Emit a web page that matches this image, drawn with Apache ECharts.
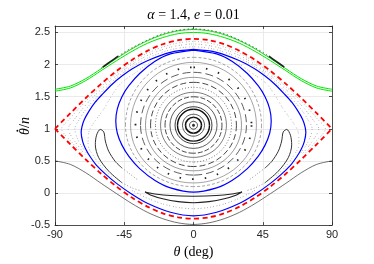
<!DOCTYPE html>
<html><head><meta charset="utf-8">
<script src="https://cdn.jsdelivr.net/npm/echarts@6/dist/echarts.min.js"></script>
<style>html,body{margin:0;padding:0;background:#fff}#c{width:374px;height:264px}</style>
</head><body><div id="c"></div>
<script>
// ---- axes ----
const xTicks = [-90, -45, 0, 45, 90];
const yTicks = [-0.5, 0, 0.5, 1, 1.5, 2, 2.5];
const yMax = 2.6;

// ---- separatrix (red dashed) ----
const sepTop = [[-90,1.0],[-80,1.243],[-70,1.479],[-60,1.70],[-50,1.90],[-40,2.072],[-30,2.212],[-20,2.316],[-10,2.379],[0,2.40],[10,2.379],[20,2.316],[30,2.212],[40,2.072],[50,1.90],[60,1.70],[70,1.479],[80,1.243],[90,1.0]];
const sepBottom = [[-90,1.0],[-80,0.757],[-70,0.521],[-60,0.30],[-50,0.10],[-40,-0.072],[-30,-0.212],[-20,-0.316],[-10,-0.379],[0,-0.40],[10,-0.379],[20,-0.316],[30,-0.212],[40,-0.072],[50,0.10],[60,0.30],[70,0.521],[80,0.757],[90,1.0]];

// ---- circulating orbits ----
const greenUpper = [[-90,1.615],[-80,1.665],[-70,1.78],[-60,1.935],[-50,2.095],[-40,2.245],[-30,2.37],[-20,2.465],[-10,2.525],[0,2.545],[10,2.525],[20,2.465],[30,2.37],[40,2.245],[50,2.095],[60,1.935],[70,1.78],[80,1.665],[90,1.615]];
const greenLower = [[-90,1.585],[-80,1.635],[-70,1.75],[-60,1.905],[-50,2.06],[-40,2.205],[-30,2.33],[-20,2.42],[-10,2.48],[0,2.50],[10,2.48],[20,2.42],[30,2.33],[40,2.205],[50,2.06],[60,1.905],[70,1.75],[80,1.635],[90,1.585]];
const nearGreen = [[-60,1.945],[-55,2.03],[-50,2.11],[-45,2.19],[-40,2.26],[-30,2.38],[-20,2.48],[-10,2.535],[0,2.555],[10,2.535],[20,2.48],[30,2.38],[40,2.26],[45,2.19],[50,2.11],[55,2.03],[60,1.945]];
const nearGreenLeft = [[-59,1.96],[-54,2.045],[-49,2.13]];
const nearGreenRight = [[49,2.13],[54,2.045],[59,1.96]];
const blackBottom = [[-90,0.5],[-80,0.445],[-70,0.315],[-60,0.15],[-50,-0.01],[-40,-0.165],[-30,-0.30],[-20,-0.40],[-10,-0.465],[0,-0.49],[10,-0.465],[20,-0.40],[30,-0.30],[40,-0.165],[50,-0.01],[60,0.15],[70,0.315],[80,0.445],[90,0.5]];

// ---- blue orbit (two loops) ----
const blueOuter = [[0,2.235],[-15,2.19],[-30,2.06],[-40,1.93],[-46.5,1.82],[-53,1.69],[-59.5,1.53],[-64,1.41],[-68,1.27],[-71,1.14],[-72.5,1.03],[-73,0.94],[-72,0.80],[-70,0.68],[-67,0.56],[-63,0.43],[-57,0.29],[-50,0.15],[-40,-0.02],[-30,-0.16],[-15,-0.30],[0,-0.355],[15,-0.30],[30,-0.16],[40,-0.02],[50,0.15],[57,0.29],[63,0.43],[67,0.56],[70,0.68],[72,0.80],[73,0.94],[72.5,1.03],[71,1.14],[68,1.27],[64,1.41],[59.5,1.53],[53,1.69],[46.5,1.82],[40,1.93],[30,2.06],[15,2.19],[0,2.235]];
const blueInner = [[0,2.225],[-15,2.165],[-25,2.05],[-35,1.86],[-42,1.67],[-46.5,1.50],[-49.5,1.31],[-50.5,1.12],[-49.5,0.93],[-46.5,0.745],[-42,0.57],[-35,0.38],[-25,0.195],[-15,0.08],[0,0.013],[15,0.08],[25,0.195],[35,0.38],[42,0.57],[46.5,0.745],[49.5,0.93],[50.5,1.12],[49.5,1.31],[46.5,1.50],[42,1.67],[35,1.86],[25,2.05],[15,2.165],[0,2.225]];

// ---- 3-island chain ----
const bananaRight = [[46.5,0.16],[55.1,0.34],[61.6,0.55],[63.8,0.75],[63,0.9],[60.6,0.99],[58.3,0.95],[57.3,0.81],[55.1,0.65],[50.8,0.49],[46.5,0.39]];
const bananaLeft = [[-46.5,0.16],[-55.1,0.34],[-61.6,0.55],[-63.8,0.75],[-63,0.9],[-60.6,0.99],[-58.3,0.95],[-57.3,0.81],[-55.1,0.65],[-50.8,0.49],[-46.5,0.39]];
const tailRightA = [[46.5,0.16],[40,0.08],[35,0.04]];
const tailRightB = [[46.5,0.39],[41,0.29],[36,0.2]];
const tailLeftA = [[-46.5,0.16],[-40,0.08],[-35,0.04]];
const tailLeftB = [[-46.5,0.39],[-41,0.29],[-36,0.2]];
const crescent = [[-31.5,0.015],[-25,-0.015],[-15,-0.04],[0,-0.05],[15,-0.04],[25,-0.015],[31.5,0.015],[28,-0.03],[20,-0.09],[10,-0.135],[0,-0.152],[-10,-0.135],[-20,-0.09],[-28,-0.03],[-31.5,0.015]];
const belowCrescent = [[-40,0.04],[-30,-0.08],[-20,-0.17],[-10,-0.225],[0,-0.245],[10,-0.225],[20,-0.17],[30,-0.08],[40,0.04]];

// ---- chaotic band (gray speckle) ----
const chaos0 = [[-69,0.6],[-74.5,0.8],[-77.1,1.0],[-74.1,1.15],[-70,1.3],[-62.7,1.5],[-60,1.565],[-50,1.795],[-40,1.965],[-30,2.10],[-15,2.23],[0,2.276],[15,2.23],[30,2.10],[40,1.965],[50,1.795],[60,1.565],[62.7,1.5],[70,1.3],[74.1,1.15],[77.1,1.0],[74.5,0.8],[69,0.6]];
const chaos1 = [[-70.5,0.6],[-77,0.8],[-81.4,1.0],[-77.3,1.15],[-72.5,1.3],[-64.9,1.5],[-59.7,1.62],[-50,1.83],[-40,2.0],[-30,2.14],[-15,2.27],[0,2.32],[15,2.27],[30,2.14],[40,2.0],[50,1.83],[59.7,1.62],[64.9,1.5],[72.5,1.3],[77.3,1.15],[81.4,1.0],[77,0.8],[70.5,0.6]];
const chaos2 = [[-71.9,0.6],[-79.4,0.8],[-85.7,1.0],[-80.6,1.15],[-75.1,1.3],[-67,1.5],[-60,1.655],[-50,1.865],[-40,2.035],[-30,2.175],[-15,2.31],[0,2.36],[15,2.31],[30,2.175],[40,2.035],[50,1.865],[60,1.655],[67,1.5],[75.1,1.3],[80.6,1.15],[85.7,1.0],[79.4,0.8],[71.9,0.6]];
const annulusLeft = [[-28,2.04],[-37,1.885],[-47.5,1.7],[-53.5,1.5],[-58.5,1.3],[-64,1.12],[-68,0.95],[-68.5,0.75],[-64.2,0.55],[-59.4,0.4],[-53,0.25]];
const annulusRight = [[28,2.04],[37,1.885],[47.5,1.7],[53.5,1.5],[58.5,1.3],[64,1.12],[68,0.95],[68.5,0.75],[64.2,0.55],[59.4,0.4],[53,0.25]];

// ---- invariant circles around the centre ----
const centerPoint = [[0, 1.055]];
const ringCenterY = 1.055;
const ringHalfWidth = [2.6,5.2,7.15,10.4,12.0,15.3,18.5,21.4,24.7,27.9,31.2,34.4,37.7,40.9,44.2];
const ringTop = [1.117,1.179,1.226,1.304,1.343,1.420,1.498,1.568,1.646,1.723,1.801,1.879,1.957,2.034,2.112];
const ringBottom = [0.993,0.931,0.884,0.808,0.769,0.694,0.619,0.554,0.482,0.412,0.345,0.279,0.216,0.156,0.099];

// styles (kept separate from data)
const ringStyles = [
  {c:'#222',w:0.8},{c:'#111',w:1.6},{c:'#333',w:0.8},{c:'#111',w:1.4},{c:'#222',w:0.9},
  {c:'#333',w:0.8},{c:'#333',w:0.9,d:[5,2]},{c:'#444',w:0.7},{c:'#666',w:0.9,d:[1,2]},
  {c:'#333',w:0.9,d:[6,3]},{c:'#555',w:0.6},{c:'#333',w:0.8,d:[8,4]},{c:'#222',w:1.8,d:[1.5,11]},
  {c:'#666',w:0.6},{c:'#666',w:0.6,d:[3,2]}
];

const chart = echarts.init(document.getElementById('c'), null, {renderer:'canvas'});
const AX = '#262626';
const serif = 'Liberation Serif';
const rich = {
  i: {fontFamily: serif, fontStyle: 'italic', fontSize: 14, color: '#000'},
  r: {fontFamily: serif, fontSize: 14, color: '#000'}
};

function ln(data, color, width, type, z, smooth) {
  return {type:'line', data, symbol:'none', showSymbol:false, smooth: smooth===undefined?0.3:smooth,
    lineStyle:{color, width, type}, z, silent:true, animation:false, clip:true};
}

const ringSeries = {
  type:'custom', z: 2, silent:true, animation:false, clip:true,
  data: ringHalfWidth.map((h,i)=>[h, ringTop[i], ringBottom[i], ringCenterY]),
  renderItem: (params, api) => {
    const hw = api.value(0), top = api.value(1), bot = api.value(2), cy = api.value(3);
    const c = api.coord([0, cy]);
    const l = api.coord([-hw, cy]);
    const r = api.coord([hw, cy]);
    const t = api.coord([0, top]);
    const b = api.coord([0, bot]);
    const k = 0.5523;
    const rx = c[0]-l[0], ryT = c[1]-t[1], ryB = b[1]-c[1];
    const st = ringStyles[params.dataIndex];
    const style = {stroke: st.c, lineWidth: st.w, fill: 'none', lineDash: st.d || null};
    const seg = (x1,y1,cx1,cy1,cx2,cy2,x2,y2) => ({type:'bezierCurve', shape:{x1,y1,cpx1:cx1,cpy1:cy1,cpx2:cx2,cpy2:cy2,x2,y2}, style});
    return {type:'group', children:[
      seg(l[0],c[1], l[0],c[1]-k*ryT, c[0]-k*rx,t[1], c[0],t[1]),
      seg(c[0],t[1], c[0]+k*rx,t[1], r[0],c[1]-k*ryT, r[0],c[1]),
      seg(r[0],c[1], r[0],c[1]+k*ryB, c[0]+k*rx,b[1], c[0],b[1]),
      seg(c[0],b[1], c[0]-k*rx,b[1], l[0],c[1]+k*ryB, l[0],c[1])
    ]};
  }
};

const speckA = [0.8,1.6,0.8,3.2,0.8,2.2];
const speckB = [0.8,2.6,0.8,1.4,0.8,3.6];
const speckC = [0.8,1.9,0.8,2.8];
const option = {
  animation:false,
  backgroundColor:'#fff',
  grid:{left:55, right:42, top:26, bottom:38, show:false},
  graphic:[
    {type:'text', x:193.5, y:15, z:10, style:{
      text:'{i|α}{r| = 1.4, }{i|e}{r| = 0.01}', rich, textAlign:'center', textVerticalAlign:'middle'}},
    {type:'group', x:25, y:126, rotation:Math.PI/2, z:10, children:[
      {type:'text', x:0, y:0, style:{text:'{i|θ}{r|/}{i|n}', rich, textAlign:'center', textVerticalAlign:'middle'}},
      {type:'circle', shape:{cx:-4.8, cy:-7.6, r:0.95}, style:{fill:'#000'}}
    ]}
  ],
  xAxis:[{type:'value', min:xTicks[0], max:xTicks[xTicks.length-1], interval:45, position:'bottom',
      axisLine:{show:true, onZero:false, lineStyle:{color:AX, width:0.8}},
      axisTick:{show:true, inside:true, length:3, lineStyle:{color:AX, width:0.8}},
      axisLabel:{color:AX, fontFamily:'Liberation Sans', fontSize:11, margin:4},
      splitLine:{show:true, lineStyle:{color:'#e4e4e4', width:0.8}},
      name:'{i|θ}{r| (deg)}', nameLocation:'middle', nameGap:15, nameTextStyle:{rich}},
    {type:'value', min:xTicks[0], max:xTicks[xTicks.length-1], interval:45, position:'top',
      axisLine:{show:true, onZero:false, lineStyle:{color:AX, width:0.8}},
      axisTick:{show:true, inside:true, length:3, lineStyle:{color:AX, width:0.8}},
      axisLabel:{show:false}, splitLine:{show:false}}],
  yAxis:[{type:'value', min:yTicks[0], max:yMax, interval:0.5, position:'left',
      axisLine:{show:true, onZero:false, lineStyle:{color:AX, width:0.8}},
      axisTick:{show:true, inside:true, length:3, lineStyle:{color:AX, width:0.8}},
      axisLabel:{color:AX, fontFamily:'Liberation Sans', fontSize:11, margin:5, showMaxLabel:false},
      splitLine:{show:true, lineStyle:{color:'#e4e4e4', width:0.8}}},
    {type:'value', min:yTicks[0], max:yMax, interval:0.5, position:'right',
      axisLine:{show:true, onZero:false, lineStyle:{color:AX, width:0.8}},
      axisTick:{show:true, inside:true, length:3, lineStyle:{color:AX, width:0.8}},
      axisLabel:{show:false}, splitLine:{show:false}}],
  series:[
    ln(chaos0, '#a0a0a0', 1, speckA, 1),
    ln(chaos1, '#9a9a9a', 1, speckB, 1),
    ln(chaos2, '#a8a8a8', 1, speckC, 1),
    ln(annulusLeft, '#a8a8a8', 1, speckA, 1),
    ln(annulusRight, '#a8a8a8', 1, speckB, 1),
    ln(belowCrescent, '#8a8a8a', 0.9, speckC, 1),
    ringSeries,
    {type:'scatter', data:centerPoint, symbol:'circle', symbolSize:3, itemStyle:{color:'#000'}, z:3, silent:true, animation:false},
    ln(bananaRight, '#333', 1, 'solid', 3),
    ln(bananaLeft, '#333', 1, 'solid', 3),
    ln(tailRightA, '#888', 0.9, [1,2], 3),
    ln(tailRightB, '#888', 0.9, [1,2], 3),
    ln(tailLeftA, '#888', 0.9, [1,2], 3),
    ln(tailLeftB, '#888', 0.9, [1,2], 3),
    ln(crescent, '#222', 1.1, 'solid', 3),
    ln(blackBottom, '#333', 0.7, 'solid', 3),
    ln(greenUpper, '#00e600', 1, 'solid', 4),
    ln(greenLower, '#00e600', 1, 'solid', 4),
    ln(nearGreen, '#444', 0.8, [1.5,2.5], 5),
    ln(nearGreenLeft, '#222', 1.6, 'solid', 5),
    ln(nearGreenRight, '#222', 1.6, 'solid', 5),
    ln(blueOuter, '#0000ff', 1.2, 'solid', 6),
    ln(blueInner, '#0000ff', 1.2, 'solid', 6),
    ln(sepTop, '#ff0000', 1.8, [5,3.5], 7),
    ln(sepBottom, '#ff0000', 1.8, [5,3.5], 7)
  ]
};
chart.setOption(option);
</script>
</body></html>
